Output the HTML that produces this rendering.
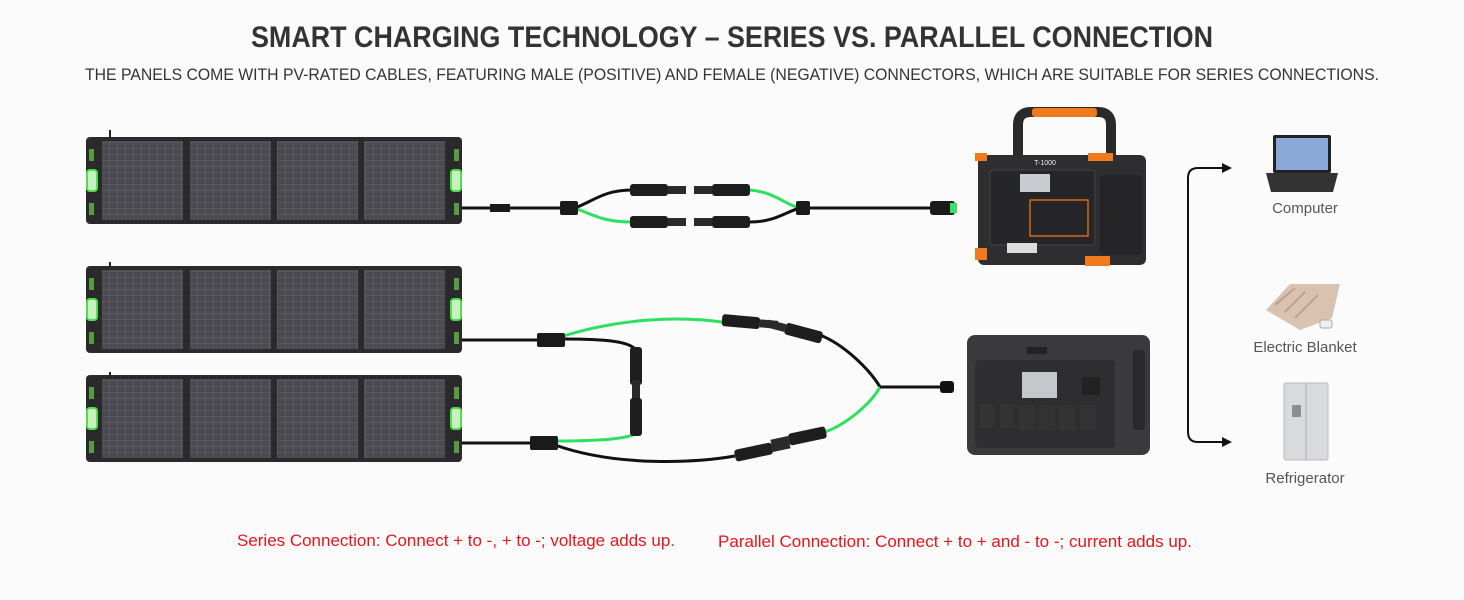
<!DOCTYPE html>
<html><head><meta charset="utf-8"><style>
body{margin:0;width:1464px;height:600px;background:#fbfbfc;overflow:hidden;font-family:"Liberation Sans",sans-serif}
svg{position:absolute;left:0;top:0}
</style></head><body>
<svg width="1464" height="600" viewBox="0 0 1464 600">
<defs>
<pattern id="grid" width="8" height="6" patternUnits="userSpaceOnUse">
<rect width="8" height="6" fill="#4a4a50"/><path d="M0 5.5H8M7.5 0V6" stroke="#5c5c62" stroke-width="0.8"/>
</pattern>
<g id="panel">
<rect x="0" y="0" width="376" height="87" rx="4" fill="#2a2a2c"/>
<rect x="16" y="4" width="81" height="79" fill="url(#grid)"/>
<rect x="104" y="4" width="81" height="79" fill="url(#grid)"/>
<rect x="191" y="4" width="81" height="79" fill="url(#grid)"/>
<rect x="278" y="4" width="81" height="79" fill="url(#grid)"/>
<rect x="1" y="33" width="10" height="21" rx="3" fill="#c8f0c0" stroke="#4de04a" stroke-width="2"/>
<rect x="365" y="33" width="10" height="21" rx="3" fill="#c8f0c0" stroke="#4de04a" stroke-width="2"/>
<rect x="3" y="12" width="5" height="12" fill="#5a9a40"/><rect x="3" y="66" width="5" height="12" fill="#5a9a40"/>
<rect x="368" y="12" width="5" height="12" fill="#5a9a40"/><rect x="368" y="66" width="5" height="12" fill="#5a9a40"/>
</g>
<g id="conn"><rect x="0" y="-6" width="38" height="12" rx="3" fill="#1e1e1e"/><rect x="38" y="-4" width="18" height="8" fill="#2a2a2a"/></g>
</defs>

<text x="732" y="47" text-anchor="middle" font-size="30" font-weight="bold" fill="#333" textLength="962" lengthAdjust="spacingAndGlyphs">SMART CHARGING TECHNOLOGY – SERIES VS. PARALLEL CONNECTION</text>
<text x="732" y="80" text-anchor="middle" font-size="17" fill="#333" textLength="1294" lengthAdjust="spacingAndGlyphs">THE PANELS COME WITH PV-RATED CABLES, FEATURING MALE (POSITIVE) AND FEMALE (NEGATIVE) CONNECTORS, WHICH ARE SUITABLE FOR SERIES CONNECTIONS.</text>

<path d="M110 130V137M110 262V266M110 372V375" stroke="#222" stroke-width="2"/>
<use href="#panel" x="86" y="137"/>
<use href="#panel" x="86" y="266"/>
<use href="#panel" x="86" y="375"/>

<!-- series cables -->
<g fill="none" stroke-width="3">
<path d="M462 208H560" stroke="#111"/>
<path d="M575 208C595 200 605 190 632 190" stroke="#111"/>
<path d="M575 208C595 216 605 222 632 222" stroke="#2de060"/>
<path d="M750 190C775 192 785 205 800 208" stroke="#2de060"/>
<path d="M750 222C775 222 785 212 800 208" stroke="#111"/>
<path d="M810 208H935" stroke="#111"/>
<!-- parallel -->
<path d="M462 340H540" stroke="#111"/>
<path d="M560 337C620 318 680 316 722 322" stroke="#2de060"/>
<path d="M563 339C610 339 630 342 636 350" stroke="#111"/>
<path d="M462 443H530" stroke="#111"/>
<path d="M555 441C590 441 620 440 636 434" stroke="#2de060"/>
<path d="M555 445C620 468 700 462 735 456" stroke="#111"/>
<path d="M820 335C845 345 870 370 880 387" stroke="#111"/>
<path d="M825 432C845 425 870 405 880 387" stroke="#2de060"/>
<path d="M880 387H945" stroke="#111"/>
</g>
<rect x="560" y="201" width="18" height="14" rx="2" fill="#1a1a1a"/>
<rect x="796" y="201" width="14" height="14" rx="2" fill="#1a1a1a"/>
<rect x="490" y="204" width="20" height="8" fill="#1a1a1a"/>
<rect x="930" y="201" width="25" height="14" rx="3" fill="#1a1a1a"/><rect x="950" y="203" width="7" height="10" fill="#3ae060"/>
<use href="#conn" x="630" y="190"/><use href="#conn" transform="translate(750,190) scale(-1,1)"/>
<use href="#conn" x="630" y="222"/><use href="#conn" transform="translate(750,222) scale(-1,1)"/>
<rect x="537" y="333" width="28" height="14" rx="2" fill="#1a1a1a"/>
<rect x="530" y="436" width="28" height="14" rx="2" fill="#1a1a1a"/>
<use href="#conn" transform="translate(722,320) rotate(5)"/><use href="#conn" transform="translate(822,338) rotate(195)"/>
<use href="#conn" transform="translate(636,347) rotate(90)"/><use href="#conn" transform="translate(636,436) rotate(-90)"/>
<use href="#conn" transform="translate(735,456) rotate(-12)"/><use href="#conn" transform="translate(826,432) rotate(168)"/>
<rect x="940" y="381" width="14" height="12" rx="3" fill="#111"/>

<!-- T-1000 -->
<path d="M1018 155V125Q1018 112 1031 112H1098Q1111 112 1111 125V155" fill="none" stroke="#2a2a2a" stroke-width="10"/>
<rect x="1032" y="108" width="65" height="9" rx="3" fill="#f07a1c"/>
<rect x="978" y="155" width="168" height="110" rx="6" fill="#2e2e30"/>
<rect x="990" y="170" width="105" height="75" rx="3" fill="#262628" stroke="#444"/>
<rect x="1020" y="174" width="30" height="18" fill="#c8ccd0"/>
<rect x="1030" y="200" width="58" height="36" fill="none" stroke="#d06a1c" stroke-width="1.5"/>
<rect x="1007" y="243" width="30" height="10" fill="#ddd"/>
<rect x="1100" y="175" width="42" height="80" rx="4" fill="#252527"/>
<rect x="975" y="153" width="12" height="8" fill="#f07a1c"/><rect x="1088" y="153" width="25" height="8" fill="#f07a1c"/>
<rect x="975" y="248" width="12" height="12" fill="#f07a1c"/><rect x="1085" y="256" width="25" height="10" fill="#f07a1c"/>
<text x="1045" y="165" font-size="7" fill="#eee" text-anchor="middle">T-1000</text>

<!-- H2400 -->
<rect x="967" y="335" width="183" height="120" rx="8" fill="#3a3a3d"/>
<rect x="975" y="360" width="140" height="88" rx="4" fill="#2e2e31"/>
<rect x="1022" y="372" width="35" height="26" fill="#c4c8cc"/>
<rect x="1082" y="377" width="18" height="18" fill="#222"/>
<g fill="#333"><rect x="980" y="404" width="14" height="24"/><rect x="1000" y="404" width="14" height="24"/><rect x="1019" y="405" width="16" height="25"/><rect x="1039" y="405" width="16" height="25"/><rect x="1059" y="405" width="16" height="25"/><rect x="1080" y="405" width="16" height="25"/></g>
<rect x="1027" y="347" width="20" height="7" fill="#222"/>
<rect x="1133" y="350" width="12" height="80" rx="3" fill="#2a2a2c"/>

<!-- arrows -->
<path d="M1226 168H1198Q1188 168 1188 178V432Q1188 442 1198 442H1226" fill="none" stroke="#111" stroke-width="2"/>
<path d="M1232 168l-10-5v10zM1232 442l-10-5v10z" fill="#111"/>

<!-- laptop -->
<rect x="1273" y="135" width="58" height="38" rx="2" fill="#222"/>
<rect x="1276" y="138" width="52" height="32" fill="#8aa8d8"/>
<path d="M1266 173H1338L1333 192H1271Z" fill="#333"/>
<text x="1305" y="213" text-anchor="middle" font-size="15" fill="#555">Computer</text>
<!-- blanket -->
<path d="M1266 310L1290 284H1340L1332 318L1300 330Z" fill="#d9c2b0"/>
<path d="M1275 305L1295 288M1285 312L1305 292M1295 318L1318 295" stroke="#bfa08e" stroke-width="2"/>
<rect x="1320" y="320" width="12" height="8" rx="2" fill="#eee" stroke="#aaa"/>
<text x="1305" y="352" text-anchor="middle" font-size="15" fill="#555">Electric Blanket</text>
<!-- fridge -->
<rect x="1284" y="383" width="44" height="77" rx="2" fill="#d8dadc" stroke="#bbb"/>
<line x1="1306" y1="383" x2="1306" y2="460" stroke="#aaa"/>
<rect x="1292" y="405" width="9" height="12" fill="#8a8f95"/>
<text x="1305" y="483" text-anchor="middle" font-size="15" fill="#555">Refrigerator</text>

<text x="237" y="546" font-size="17" fill="#e8141c" textLength="438" lengthAdjust="spacingAndGlyphs">Series Connection: Connect + to -, + to -; voltage adds up.</text>
<text x="718" y="547" font-size="17" fill="#e8141c" textLength="474" lengthAdjust="spacingAndGlyphs">Parallel Connection: Connect + to + and - to -; current adds up.</text>
</svg>
</body></html>
